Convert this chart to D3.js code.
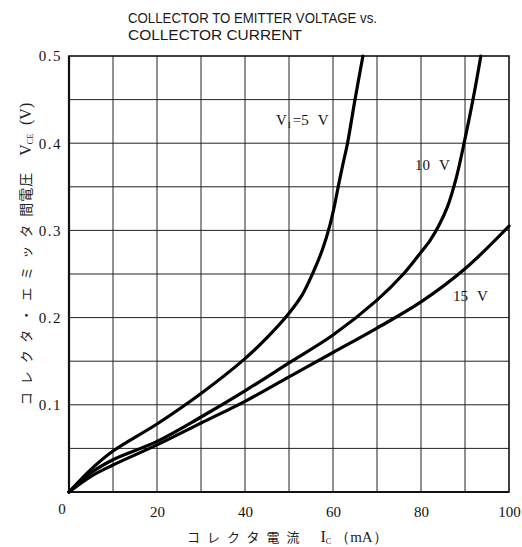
<!DOCTYPE html>
<html><head><meta charset="utf-8">
<script src="https://cdn.jsdelivr.net/npm/d3@7"></script>
<style>body{margin:0;background:#fff}svg{display:block}</style>
</head><body>
<script>
// ---- data ----
const titleLines = ["COLLECTOR TO EMITTER VOLTAGE vs.", "COLLECTOR CURRENT"];
const xTicks = [20, 40, 60, 80, 100];
const yTicks = [0.1, 0.2, 0.3, 0.4, 0.5];
const xGrid = [10, 20, 30, 40, 50, 60, 70, 80, 90];
const yGrid = [0.05, 0.1, 0.15, 0.2, 0.25, 0.3, 0.35, 0.4, 0.45];
const seriesNames = ["5 V", "10 V", "15 V"];
const ic5  = [0, 5, 10, 20, 30, 40, 45, 50, 53, 55.5, 57.6, 59.3, 60.4, 61.3, 62.3, 63.3, 65.0, 66.8];
const vce5 = [0, 0.026, 0.047, 0.078, 0.113, 0.153, 0.177, 0.205, 0.226, 0.252, 0.278, 0.306, 0.33, 0.353, 0.377, 0.40, 0.45, 0.50];
const ic10  = [0, 5, 10, 20, 30, 40, 50, 60, 70, 76, 80, 82, 84, 86, 88, 90, 92, 93.6];
const vce10 = [0, 0.022, 0.037, 0.058, 0.086, 0.116, 0.148, 0.18, 0.22, 0.25, 0.275, 0.288, 0.305, 0.327, 0.36, 0.405, 0.455, 0.50];
const ic15  = [0, 5, 10, 20, 30, 40, 50, 60, 70, 80, 90, 100];
const vce15 = [0, 0.018, 0.031, 0.054, 0.079, 0.104, 0.132, 0.16, 0.188, 0.218, 0.256, 0.305];

const W = 522, H = 547;
const L = 69, R = 509, T = 56, B = 492;
const svg = d3.select("body").append("svg").attr("width", W).attr("height", H);
const x = d3.scaleLinear().domain([0, 100]).range([L, R]);
const y = d3.scaleLinear().domain([0, 0.5]).range([B, T]);
const serif = "Liberation Serif, serif";
const jp = "Noto Sans CJK JP, sans-serif";

// title
svg.append("g").selectAll("text").data(titleLines).join("text")
  .attr("x", 128).attr("y", (d, i) => 23 + i * 17)
  .style("font-family", "Liberation Sans, Arial, sans-serif").style("font-size", "15px")
  .attr("fill", "#1a1a1a")
  .attr("textLength", (d, i) => i === 0 ? 249 : 174).attr("lengthAdjust", "spacingAndGlyphs")
  .text(d => d);

// grid
const g = svg.append("g");
g.selectAll("line.vx").data(xGrid).join("line")
  .attr("x1", d => x(d)).attr("x2", d => x(d)).attr("y1", T).attr("y2", B)
  .attr("stroke", "#222").attr("stroke-width", 1);
g.selectAll("line.hy").data(yGrid).join("line")
  .attr("y1", d => y(d)).attr("y2", d => y(d)).attr("x1", L).attr("x2", R)
  .attr("stroke", "#222").attr("stroke-width", 1);

// axes via d3 (labels)
const xAxis = svg.append("g").attr("transform", `translate(0,${B})`)
  .call(d3.axisBottom(x).tickValues(xTicks).tickSize(0).tickPadding(14).tickFormat(d3.format("d")));
const yAxis = svg.append("g").attr("transform", `translate(${L},0)`)
  .call(d3.axisLeft(y).tickValues(yTicks).tickSize(0).tickPadding(7).tickFormat(d3.format(".1f")));
[xAxis, yAxis].forEach(a => {
  a.select(".domain").remove();
  a.attr("font-family", null).attr("font-size", null);
  a.selectAll("text").style("font-family", serif).style("font-size", "15px").attr("fill", "#111");
});
yAxis.selectAll("text").style("letter-spacing", "1.5px");
// origin label
svg.append("text").attr("x", x(0) - 7).attr("y", y(0) + 22).attr("text-anchor", "middle")
  .style("font-family", serif).style("font-size", "15px").attr("fill", "#111").text("0");

// frame
svg.append("rect").attr("x", L).attr("y", T).attr("width", R - L).attr("height", B - T)
  .attr("fill", "none").attr("stroke", "#111").attr("stroke-width", 1.6);
svg.append("line").attr("x1", L).attr("x2", L).attr("y1", T).attr("y2", B).attr("stroke", "#111").attr("stroke-width", 2.2);
svg.append("line").attr("x1", L).attr("x2", R).attr("y1", B).attr("y2", B).attr("stroke", "#111").attr("stroke-width", 2.2);

// curves
const line = d3.line().x(d => x(d[0])).y(d => y(d[1])).curve(d3.curveCatmullRom.alpha(0.5));
const series = [d3.zip(ic5, vce5), d3.zip(ic10, vce10), d3.zip(ic15, vce15)];
svg.append("g").selectAll("path").data(series).join("path")
  .attr("d", line).attr("fill", "none").attr("stroke", "#000").attr("stroke-width", 3.2)
  .attr("stroke-linejoin", "round").attr("stroke-linecap", "round");

// curve labels
const lab = svg.append("g").style("font-family", serif).style("font-size", "15px").attr("fill", "#111");
const t5 = lab.append("text").attr("x", 276).attr("y", 125);
t5.append("tspan").text("V");
t5.append("tspan").style("font-size", "9px").attr("dy", 3).attr("dx", 1).text("I");
t5.append("tspan").attr("dy", -3).attr("dx", 2).text("=5");
t5.append("tspan").attr("dx", 9).text("V");
const t10 = lab.append("text").attr("x", 415).attr("y", 170);
t10.append("tspan").text("10");
t10.append("tspan").attr("dx", 9).text("V");
const t15 = lab.append("text").attr("x", 453).attr("y", 301);
t15.append("tspan").text("15");
t15.append("tspan").attr("dx", 9).text("V");

// y axis title (rotated)
const yt = svg.append("text").attr("transform", "translate(31,254) rotate(-90)")
  .attr("text-anchor", "middle").attr("fill", "#222");
yt.append("tspan").style("font-family", jp).style("font-size", "13px").style("letter-spacing", "8px").text("コレクタ・エミッタ");
yt.append("tspan").style("font-family", jp).style("font-size", "14px").style("letter-spacing", "1px").text("間電圧");
yt.append("tspan").style("font-family", serif).style("font-size", "16px").attr("dx", 16).text("V");
yt.append("tspan").style("font-family", serif).style("font-size", "8px").attr("dy", 2).text("CE");
yt.append("tspan").style("font-family", serif).style("font-size", "16px").attr("dy", -2).attr("dx", 9).text("(V)");

// x axis title
const xt = svg.append("text").attr("x", 187).attr("y", 542).attr("fill", "#222");
xt.append("tspan").style("font-family", jp).style("font-size", "13px").style("letter-spacing", "7px").text("コレクタ電流");
xt.append("tspan").style("font-family", serif).style("font-size", "16px").attr("dx", 14).text("I");
xt.append("tspan").style("font-family", serif).style("font-size", "8px").attr("dy", 2).text("C");
xt.append("tspan").style("font-family", serif).style("font-size", "15px").attr("dy", -2).attr("dx", 4).text("（mA）");
</script>
</body></html>
